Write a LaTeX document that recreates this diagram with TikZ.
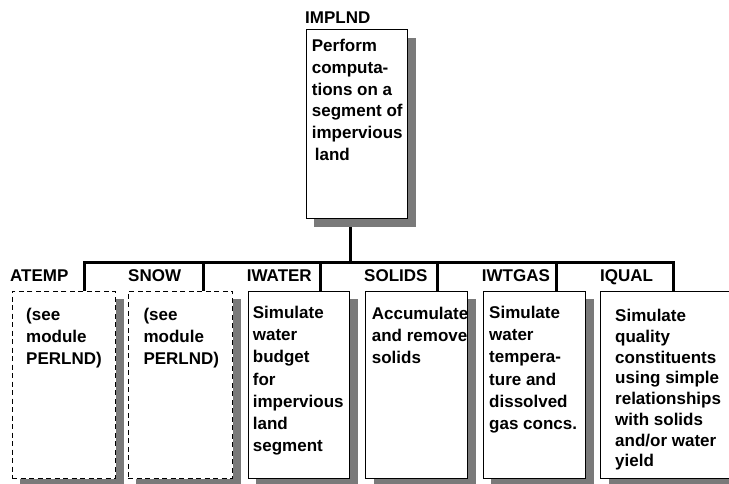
\documentclass[tikz,border=0pt]{standalone}
\usepackage{fontspec}
\setmainfont{Liberation Sans}
\usetikzlibrary{shadows,backgrounds}
\tikzset{
  modbox/.style={rectangle, draw=black, line width=1pt, fill=white, inner sep=0pt,
    anchor=north west, minimum height=187.6pt,
    drop shadow={shadow xshift=8pt, shadow yshift=-8pt, fill=black!52, opacity=1}},
  dashbox/.style={modbox, dash pattern=on 5pt off 3.5pt},
  txt/.style={font=\bfseries\fontsize{17}{22.2}\selectfont, align=left, inner sep=0pt, anchor=north west},
  lab/.style={font=\bfseries\fontsize{17}{20}\selectfont, inner sep=0pt, anchor=base west},
  conn/.style={line width=3pt, line join=miter}
}
\begin{document}
\begin{tikzpicture}[x=1pt, y=-1pt]
\useasboundingbox (0,0) rectangle (729,484);

% boxes
\node[modbox, minimum width=101.6pt, minimum height=189pt] (implnd) at (305.7,29.3) {};
\node[dashbox, minimum width=103.3pt] (atemp) at (11.7,290.7) {};
\node[dashbox, minimum width=104.6pt] (snow) at (127.7,290.7) {};
\node[modbox, minimum width=101.6pt] (iwater) at (247.7,290.7) {};
\node[modbox, minimum width=102.3pt] (solids) at (365,290.7) {};
\node[modbox, minimum width=102.3pt] (iwtgas) at (482.7,290.7) {};
\node[modbox, minimum width=140pt] (iqual) at (600,290.7) {};

% labels
\node[lab] (limplnd) at (305,23.3) {IMPLND};
\node[lab] (latemp) at (10,281.7) {ATEMP};
\node[lab] (lsnow) at (128,281.7) {SNOW};
\node[lab] (liwater) at (246.7,281.7) {IWATER};
\node[lab] (lsolids) at (364,281.7) {SOLIDS};
\node[lab] (liwtgas) at (481.7,281.7) {IWTGAS};
\node[lab] (liqual) at (600,281.7) {IQUAL};

% box texts
\node[txt, font=\bfseries\fontsize{17}{21.7}\selectfont] (timplnd) at (311.7,39.3)
  {Perform\\computa-\\tions on a\\segment of\\impervious\\\hspace*{3pt}land};
\node[txt, font=\bfseries\fontsize{17}{21.7}\selectfont] (tatemp) at (26,308.3) {(see\\module\\PERLND)};
\node[txt, font=\bfseries\fontsize{17}{21.7}\selectfont] (tsnow) at (143.3,308.3) {(see\\module\\PERLND)};
\node[txt] (tiwater) at (252.7,306) {Simulate\\water\\budget\\for\\impervious\\land\\segment};
\node[txt, font=\bfseries\fontsize{17}{22}\selectfont] (tsolids) at (371.7,307.3) {Accumulate\\and remove\\solids};
\node[txt] (tiwtgas) at (489,306) {Simulate\\water\\tempera-\\ture and\\dissolved\\gas concs.};
\node[txt, font=\bfseries\fontsize{17}{20.7}\selectfont] (tiqual) at (615,309.3)
  {Simulate\\quality\\constituents\\using simple\\relationships\\with solids\\and/or water\\yield};

% bus coordinates
\coordinate (tr) at (350,262);
\coordinate (t1) at (84,262);
\coordinate (t2) at (203,262);
\coordinate (t3) at (320,262);
\coordinate (t4) at (437,262);
\coordinate (t5) at (556,262);
\coordinate (t6) at (673,262);

\begin{scope}[on background layer]
  \draw[conn] (tr |- implnd.south) -- (tr);
  \draw[conn] (t1 |- atemp.north) -- (t1) -- (t6) -- (t6 |- iqual.north);
  \draw[conn] (t2) -- (t2 |- snow.north);
  \draw[conn] (t3) -- (t3 |- iwater.north);
  \draw[conn] (t4) -- (t4 |- solids.north);
  \draw[conn] (t5) -- (t5 |- iwtgas.north);
\end{scope}
\end{tikzpicture}
\end{document}
